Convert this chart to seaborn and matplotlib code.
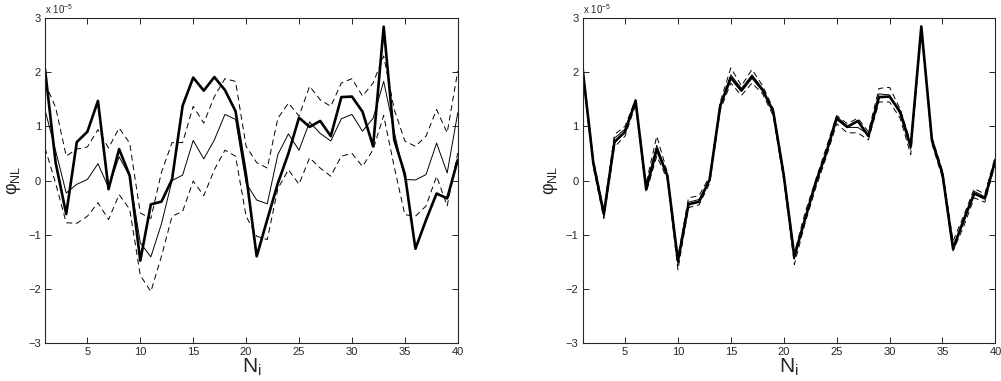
import numpy as np
import pandas as pd
import seaborn as sns
import matplotlib
matplotlib.use("Agg")
import matplotlib.pyplot as plt

# индекс N_i
N = np.arange(1, 41)

# истинный сигнал (в единицах 1e-5)
phi_true = [2.05, 0.33, -0.62, 0.71, 0.90, 1.47, -0.16, 0.58, 0.09, -1.48,
            -0.44, -0.39, 0.02, 1.38, 1.90, 1.66, 1.91, 1.67, 1.28, 0.10,
            -1.40, -0.72, -0.05, 0.50, 1.16, 0.99, 1.10, 0.82, 1.54, 1.55,
            1.27, 0.63, 2.84, 0.75, 0.12, -1.26, -0.73, -0.24, -0.33, 0.38]

# левая панель: среднее и границы
left_mean = [1.30, 0.55, -0.23, -0.07, 0.02, 0.31, -0.13, 0.44, 0.08, -1.15,
             -1.41, -0.80, 0.00, 0.10, 0.74, 0.40, 0.75, 1.22, 1.13, -0.05,
             -0.36, -0.43, 0.48, 0.86, 0.56, 1.08, 0.87, 0.73, 1.14, 1.22,
             0.91, 1.15, 1.83, 0.90, 0.02, 0.01, 0.11, 0.69, 0.14, 1.25]
left_upper = [1.80, 1.35, 0.45, 0.58, 0.62, 0.94, 0.60, 0.97, 0.69, -0.60,
              -0.70, 0.15, 0.70, 0.70, 1.37, 1.06, 1.55, 1.88, 1.83, 0.63,
              0.33, 0.23, 1.15, 1.43, 1.19, 1.74, 1.49, 1.37, 1.80, 1.88,
              1.56, 1.80, 2.30, 1.31, 0.73, 0.63, 0.82, 1.31, 0.88, 2.02]
left_lower = [0.60, -0.05, -0.78, -0.79, -0.66, -0.41, -0.72, -0.26, -0.53, -1.75,
              -2.05, -1.40, -0.66, -0.57, -0.01, -0.28, 0.20, 0.56, 0.45, -0.66,
              -1.03, -1.09, -0.15, 0.20, -0.07, 0.42, 0.23, 0.08, 0.45, 0.50,
              0.26, 0.57, 1.20, 0.25, -0.63, -0.66, -0.47, 0.08, -0.47, 0.51]

# правая панель
right_mean = [2.05, 0.30, -0.65, 0.78, 0.95, 1.45, -0.10, 0.65, 0.10, -1.55,
              -0.40, -0.35, 0.00, 1.40, 1.95, 1.70, 1.95, 1.70, 1.25, 0.05,
              -1.45, -0.70, -0.10, 0.50, 1.12, 0.98, 0.98, 0.85, 1.60, 1.58,
              1.22, 0.58, 2.82, 0.72, 0.10, -1.20, -0.78, -0.20, -0.30, 0.40]
right_upper = [2.10, 0.40, -0.55, 0.85, 1.00, 1.50, -0.05, 0.82, 0.15, -1.42,
               -0.32, -0.28, 0.08, 1.45, 2.08, 1.75, 2.05, 1.75, 1.33, 0.15,
               -1.35, -0.60, 0.00, 0.60, 1.20, 1.05, 1.15, 0.90, 1.70, 1.72,
               1.32, 0.70, 2.86, 0.80, 0.18, -1.12, -0.65, -0.15, -0.25, 0.45]
right_lower = [2.00, 0.25, -0.70, 0.62, 0.82, 1.40, -0.22, 0.45, 0.02, -1.65,
               -0.50, -0.45, -0.05, 1.30, 1.80, 1.57, 1.80, 1.60, 1.20, 0.00,
               -1.55, -0.80, -0.15, 0.42, 1.05, 0.88, 0.88, 0.75, 1.45, 1.45,
               1.15, 0.48, 2.80, 0.68, 0.05, -1.30, -0.85, -0.32, -0.40, 0.32]

sns.set_style("ticks")
plt.rcParams['font.family'] = ['Liberation Sans', 'DejaVu Sans']
plt.rcParams['mathtext.default'] = 'regular'

fig = plt.figure(figsize=(10.01, 3.81), dpi=100)
ax1 = fig.add_axes([0.045, 0.0997, 0.4123, 0.853])
ax2 = fig.add_axes([0.5821, 0.0997, 0.4123, 0.853])

dash = (6, 4)

def draw(ax, mean, upper, lower):
    sns.lineplot(x=N, y=upper, ax=ax, color='k', lw=0.7)
    sns.lineplot(x=N, y=lower, ax=ax, color='k', lw=0.7)
    for l in ax.lines:
        l.set_dashes(dash)
    sns.lineplot(x=N, y=mean, ax=ax, color='k', lw=0.7)
    sns.lineplot(x=N, y=phi_true, ax=ax, color='k', lw=1.9)

    ax.set_xlim(1, 40)
    ax.set_ylim(-3, 3)
    ax.set_xticks([5, 10, 15, 20, 25, 30, 35, 40])
    ax.set_yticks([-3, -2, -1, 0, 1, 2, 3])
    ax.set_yticklabels(['\u22123', '\u22122', '\u22121', '0', '1', '2', '3'])
    ax.tick_params(direction='in', top=True, right=True, labelsize=8,
                   length=4, width=0.7, pad=3)
    for s in ax.spines.values():
        s.set_linewidth(0.8)
        s.set_visible(True)
    ax.set_xlabel('N$_{i}$', fontsize=15, labelpad=0)
    ax.set_ylabel('\u03c6$_{NL}$', fontsize=13, labelpad=4)
    ax.text(0.0, 1.005, 'x 10$^{\u22125}$', transform=ax.transAxes,
            fontsize=7, va='bottom', ha='left')

draw(ax1, left_mean, left_upper, left_lower)
draw(ax2, right_mean, right_upper, right_lower)

fig.savefig("out.png", dpi=100)
